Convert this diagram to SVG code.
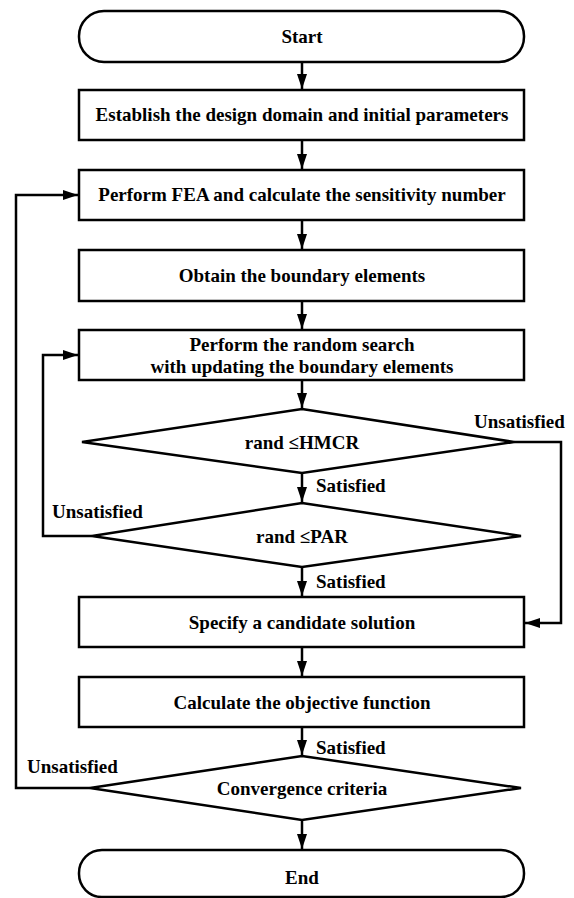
<svg xmlns="http://www.w3.org/2000/svg" width="574" height="898" viewBox="0 0 574 898">
<style>
.s{fill:#fff;stroke:#000;stroke-width:2.5}
.t{font-family:"Liberation Serif","Times New Roman",serif;font-weight:bold;font-size:19px;fill:#000;text-anchor:middle}
.l{font-family:"Liberation Serif","Times New Roman",serif;font-weight:bold;font-size:19px;fill:#000}
.c{fill:none;stroke:#000;stroke-width:2.5}
</style>
<defs>
<marker id="ah" markerUnits="userSpaceOnUse" markerWidth="16" markerHeight="11" refX="15" refY="5" orient="auto">
<path d="M0,0 L15,5 L0,10 z" fill="#000"/>
</marker>
</defs>
<rect width="574" height="898" fill="#fff"/>
<g id="connectors">
<line class="c" x1="302" y1="62" x2="302" y2="89" marker-end="url(#ah)"/>
<line class="c" x1="302" y1="140" x2="302" y2="169" marker-end="url(#ah)"/>
<line class="c" x1="302" y1="220" x2="302" y2="249" marker-end="url(#ah)"/>
<line class="c" x1="302" y1="301" x2="302" y2="329" marker-end="url(#ah)"/>
<line class="c" x1="302" y1="380" x2="302" y2="408" marker-end="url(#ah)"/>
<line class="c" x1="302" y1="473" x2="302" y2="502" marker-end="url(#ah)"/>
<line class="c" x1="302" y1="567" x2="302" y2="596" marker-end="url(#ah)"/>
<line class="c" x1="302" y1="647" x2="302" y2="676" marker-end="url(#ah)"/>
<line class="c" x1="302" y1="727" x2="302" y2="755" marker-end="url(#ah)"/>
<line class="c" x1="302" y1="820" x2="302" y2="849" marker-end="url(#ah)"/>
<polyline class="c" points="514,442 561,442 561,623 525,623" marker-end="url(#ah)"/>
<polyline class="c" points="92,536 43,536 43,355 78,355" marker-end="url(#ah)"/>
<polyline class="c" points="90,788 16,788 16,195 78,195" marker-end="url(#ah)"/>
<text class="l" x="474" y="428">Unsatisfied</text>
<text class="l" x="316" y="492">Satisfied</text>
<text class="l" x="52" y="518">Unsatisfied</text>
<text class="l" x="316" y="588">Satisfied</text>
<text class="l" x="316" y="754">Satisfied</text>
<text class="l" x="27" y="773">Unsatisfied</text>
</g>
<g id="start">
<rect class="s" x="79" y="11" width="445" height="51" rx="25" ry="25"/>
<text class="t" x="302" y="43">Start</text>
</g>
<g id="establish">
<rect class="s" x="79" y="90" width="445" height="50"/>
<text class="t" x="302" y="121">Establish the design domain and initial parameters</text>
</g>
<g id="fea">
<rect class="s" x="79" y="170" width="445" height="50"/>
<text class="t" x="302" y="201">Perform FEA and calculate the sensitivity number</text>
</g>
<g id="boundary">
<rect class="s" x="79" y="250" width="445" height="51"/>
<text class="t" x="302" y="282">Obtain the boundary elements</text>
</g>
<g id="random">
<rect class="s" x="79" y="330" width="445" height="50"/>
<text class="t" x="302" y="351">Perform the random search</text>
<text class="t" x="302" y="373">with updating the boundary elements</text>
</g>
<g id="hmcr">
<polygon class="s" points="302,409 514,442 302,473 82,442"/>
<text class="t" x="302" y="449">rand ≤HMCR</text>
</g>
<g id="par">
<polygon class="s" points="302,503 521,536 302,567 92,536"/>
<text class="t" x="302" y="543">rand ≤PAR</text>
</g>
<g id="candidate">
<rect class="s" x="79" y="597" width="445" height="50"/>
<text class="t" x="302" y="629">Specify a candidate solution</text>
</g>
<g id="objective">
<rect class="s" x="79" y="677" width="445" height="50"/>
<text class="t" x="302" y="709">Calculate the objective function</text>
</g>
<g id="convergence">
<polygon class="s" points="302,756 521,788 302,820 90,788"/>
<text class="t" x="302" y="795">Convergence criteria</text>
</g>
<g id="end">
<rect class="s" x="79" y="850" width="445" height="47" rx="23" ry="23"/>
<text class="t" x="302" y="884">End</text>
</g>
</svg>
